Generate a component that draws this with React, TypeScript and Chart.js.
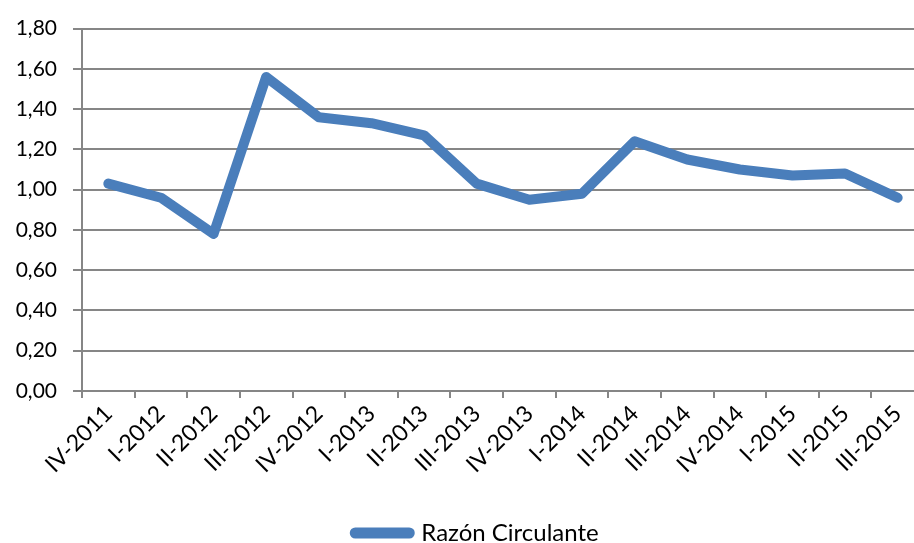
import React, { useEffect, useRef } from "react";
import { Chart, registerables } from "chart.js";

Chart.register(...registerables);

const categories = [
  "IV-2011", "I-2012", "II-2012", "III-2012", "IV-2012", "I-2013", "II-2013", "III-2013",
  "IV-2013", "I-2014", "II-2014", "III-2014", "IV-2014", "I-2015", "II-2015", "III-2015",
];
const razonCirculante = [
  1.03, 0.96, 0.78, 1.56, 1.36, 1.33, 1.27, 1.03,
  0.95, 0.98, 1.24, 1.15, 1.10, 1.07, 1.08, 0.96,
];
const seriesName = "Razón Circulante";
const yMin = 0;
const yMax = 1.8;
const yStep = 0.2;

const FONT = "Lato, 'Open Sans', sans-serif";

const legendShift = {
  id: "legendShift",
  afterLayout(chart: any) {
    const l = chart.legend;
    if (l) {
      l.left += 15;
      l.right += 15;
    }
  },
};

export default function App() {
  const ref = useRef<HTMLCanvasElement | null>(null);

  useEffect(() => {
    if (!ref.current) return;
    const chart = new Chart(ref.current, {
      type: "line",
      data: {
        labels: categories,
        datasets: [
          {
            label: seriesName,
            data: razonCirculante,
            borderColor: "#4A7EBB",
            backgroundColor: "#4A7EBB",
            borderWidth: 10,
            borderCapStyle: "round",
            borderJoinStyle: "round",
            pointRadius: 0,
            pointHoverRadius: 0,
            pointStyle: "line",
            tension: 0,
          },
        ],
      },
      plugins: [legendShift],
      options: {
        responsive: false,
        animation: false,
        layout: { padding: { top: 25, right: 6, bottom: 5, left: 0 } },
        plugins: {
          tooltip: { enabled: false },
          legend: {
            position: "bottom",
            labels: {
              usePointStyle: true,
              pointStyle: "line",
              pointStyleWidth: 54,
              color: "#000",
              padding: 10,
              font: { family: FONT, size: 24 },
              generateLabels: (c: any) =>
                Chart.defaults.plugins.legend.labels
                  .generateLabels(c)
                  .map((l: any) => ({ ...l, lineCap: "round", lineWidth: 11 })),
            },
          },
        },
        scales: {
          x: {
            offset: true,
            grid: {
              display: true,
              drawOnChartArea: false,
              drawTicks: true,
              tickLength: 7,
              offset: true,
              color: "#868686",
              lineWidth: 2,
            },
            border: { display: true, color: "#868686", width: 2 },
            ticks: {
              autoSkip: false,
              maxRotation: 45,
              minRotation: 45,
              color: "#000",
              padding: 2,
              font: { family: FONT, size: 23 },
            },
            afterFit: (s: any) => {
              s.height = 120;
            },
          },
          y: {
            min: yMin,
            max: yMax,
            grid: {
              color: "#868686",
              lineWidth: 2,
              tickLength: 9,
            },
            border: { display: true, color: "#868686", width: 2 },
            ticks: {
              stepSize: yStep,
              color: "#000",
              padding: 16,
              font: { family: FONT, size: 21 },
              callback: (v: any) => Number(v).toFixed(2).replace(".", ","),
            },
            afterFit: (s: any) => {
              s.width = 82;
            },
          },
        },
      },
    });
    return () => chart.destroy();
  }, []);

  return (
    <div
      style={{
        position: "fixed",
        left: 0,
        top: 0,
        width: 914,
        height: 543,
        overflow: "hidden",
        background: "#fff",
      }}
    >
      <canvas ref={ref} width={930} height={560} style={{ width: 930, height: 560 }} />
    </div>
  );
}
